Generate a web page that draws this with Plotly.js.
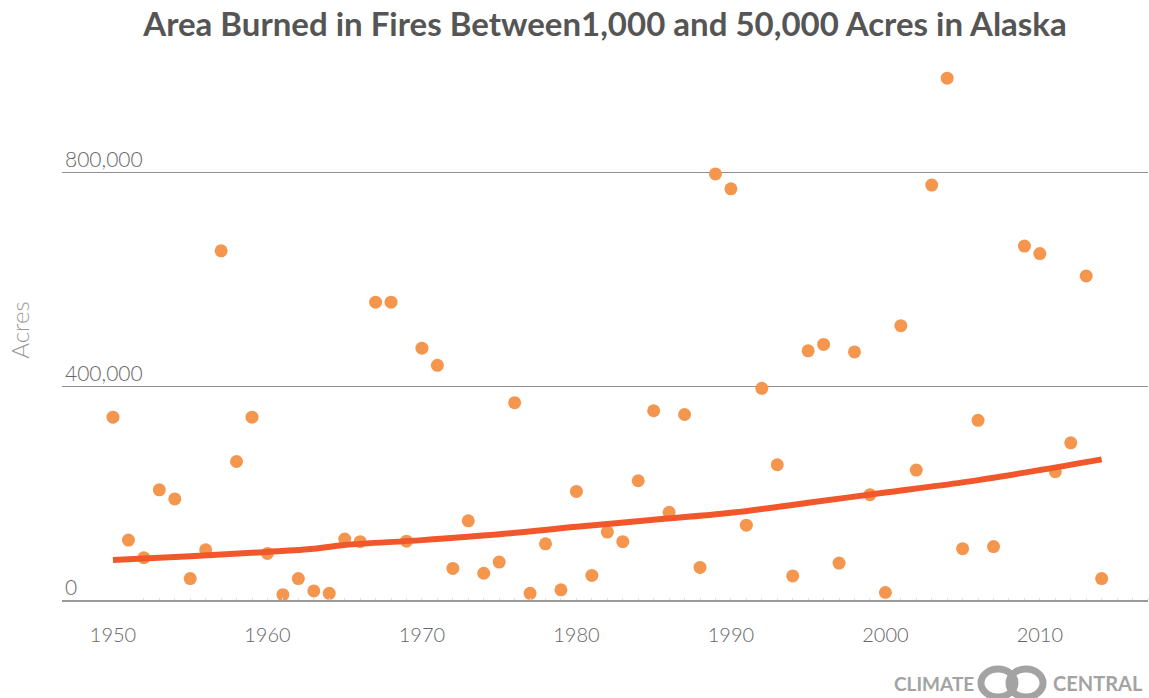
<!DOCTYPE html>
<html>
<head>
<meta charset="utf-8">
<script src="https://cdn.plot.ly/plotly-3.0.1.min.js"></script>
<style>
  html, body { margin: 0; padding: 0; background: #fff; }
  #chart { width: 1149px; height: 698px; }
</style>
</head>
<body>
<div id="chart"></div>
<script>
// ---- Data ----
const chartTitle = "Area Burned in Fires Between1,000 and 50,000 Acres in Alaska";
const yTitle = "Acres";

const years = [
  1950, 1951, 1952, 1953, 1954, 1955, 1956, 1957, 1958, 1959,
  1960, 1961, 1962, 1963, 1964, 1965, 1966, 1967, 1968, 1969,
  1970, 1971, 1972, 1973, 1974, 1975, 1976, 1977, 1978, 1979,
  1980, 1981, 1982, 1983, 1984, 1985, 1986, 1987, 1988, 1989,
  1990, 1991, 1992, 1993, 1994, 1995, 1996, 1997, 1998, 1999,
  2000, 2001, 2002, 2003, 2004, 2005, 2006, 2007, 2008, 2009,
  2010, 2011, 2012, 2013, 2014
];

const acresBurned = [
  342000, 112000, 79000, 206000, 189000, 40000, 94000, 653000, 259000, 342000,
  87000, 10000, 40000, 17000, 12500, 114000, 109000, 557000, 557000, 110000,
  471000, 439000, 59000, 148000, 50000, 71000, 369000, 12500, 105000, 19000,
  203000, 46000, 127000, 109000, 223000, 354000, 164000, 347000, 61000, 797000,
  769000, 140000, 396000, 253000, 45000, 466000, 478000, 69000, 464000, 197000,
  14000, 513000, 243000, 776000, 976000, 96000, 336000, 100000, null, 662000,
  648000, 240000, 294000, 606000, 40000
];

const trendYears = [1950, 1955, 1960, 1963, 1965, 1970, 1975, 1980, 1985, 1990, 1995, 2000, 2005, 2010, 2014];
const trendAcres = [75000, 82000, 90000, 96000, 103000, 112000, 123000, 137000, 150000, 163000, 182000, 201000, 220000, 243000, 263000];

const yTickVals = [0, 400000, 800000];
const xTickVals = [1950, 1960, 1970, 1980, 1990, 2000, 2010];
const xRange = [1946.7, 2017.0];
const yRange = [0, 1010000];

// ---- Traces ----
const points = {
  type: "scatter",
  mode: "markers",
  x: years,
  y: acresBurned,
  marker: { color: "#F5964F", size: 13, line: { width: 0 } },
  hoverinfo: "x+y",
  showlegend: false
};

const trend = {
  type: "scatter",
  mode: "lines",
  x: trendYears,
  y: trendAcres,
  line: { color: "#F1572A", width: 6, shape: "spline" },
  hoverinfo: "skip",
  showlegend: false
};

// empty helper trace so the year-label axis (x2/y2 overlay) gets drawn
const axisHelper = {
  type: "scatter",
  mode: "markers",
  x: [],
  y: [],
  xaxis: "x2",
  yaxis: "y2",
  hoverinfo: "skip",
  showlegend: false
};

const fontFam = "Lato, 'Open Sans', 'DejaVu Sans', sans-serif";
const logoColor = "#a3a3a3";

// logo geometry (paper coordinates derived from pixel positions of the plot area)
const plotL = 62, plotW = 1086, plotB = 600, plotH = 540;
const px = v => (v - plotL) / plotW;
const py = v => (plotB - v) / plotH;

const layout = {
  width: 1149,
  height: 698,
  paper_bgcolor: "#ffffff",
  plot_bgcolor: "#ffffff",
  margin: { l: 62, r: 1, t: 60, b: 98, pad: 0 },
  title: {
    text: chartTitle,
    font: { family: fontFam, size: 33, color: "#555555", weight: "bold" },
    x: 0.5, xanchor: "center",
    y: 0.965, yanchor: "middle",
    xref: "paper", yref: "container"
  },
  xaxis: {
    range: xRange,
    tickmode: "array",
    tickvals: xTickVals,
    showticklabels: false,
    ticks: "",
    showgrid: false,
    zeroline: false,
    showline: true,
    linecolor: "#9a9a9a",
    linewidth: 2,
    minor: { dtick: 1, tick0: 1950, ticks: "inside", ticklen: 2, tickcolor: "#e0e0e0", showgrid: false },
    fixedrange: true
  },
  xaxis2: {
    overlaying: "x",
    anchor: "y2",
    side: "bottom",
    range: xRange,
    tickmode: "array",
    tickvals: xTickVals,
    ticktext: xTickVals.map(String),
    ticks: "",
    showgrid: false,
    zeroline: false,
    showline: false,
    ticklabelstandoff: 21,
    tickfont: { family: fontFam, size: 20, color: "#666666", weight: 300 },
    fixedrange: true
  },
  yaxis: {
    range: yRange,
    tickmode: "array",
    tickvals: yTickVals,
    tickformat: ",",
    ticks: "",
    ticklabelposition: "inside top",
    ticklabelshift: 2,
    showgrid: true,
    gridcolor: "#8f8f8f",
    gridwidth: 1,
    zeroline: false,
    showline: false,
    tickfont: { family: fontFam, size: 21, color: "#666666", weight: 300 },
    title: {
      text: yTitle,
      font: { family: fontFam, size: 24, color: "#9a9a9a", weight: 300 },
      standoff: 28
    },
    automargin: false,
    fixedrange: true
  },
  yaxis2: {
    overlaying: "y",
    anchor: "x2",
    side: "left",
    range: yRange,
    showticklabels: false,
    ticks: "",
    showgrid: false,
    zeroline: false,
    showline: false,
    fixedrange: true
  },
  annotations: [
    {
      xref: "paper", yref: "paper",
      x: px(1145), y: py(683),
      xanchor: "right", yanchor: "middle",
      text: "CENTRAL",
      showarrow: false,
      font: { family: fontFam, size: 20, color: logoColor, weight: "bold" }
    },
    {
      xref: "paper", yref: "paper",
      x: px(976), y: py(683),
      xanchor: "right", yanchor: "middle",
      text: "CLIMATE",
      showarrow: false,
      font: { family: fontFam, size: 19, color: logoColor, weight: "bold" }
    }
  ],
  shapes: [
    {
      type: "circle", xref: "paper", yref: "paper", layer: "above",
      x0: px(981), x1: px(1015),
      y0: py(697), y1: py(669),
      line: { color: logoColor, width: 7 }, fillcolor: "rgba(0,0,0,0)"
    },
    {
      type: "circle", xref: "paper", yref: "paper", layer: "above",
      x0: px(1009), x1: px(1043),
      y0: py(697), y1: py(669),
      line: { color: logoColor, width: 7 }, fillcolor: "rgba(0,0,0,0)"
    }
  ],
  showlegend: false,
  hovermode: "closest"
};

Plotly.newPlot("chart", [axisHelper, points, trend], layout, { displayModeBar: false, staticPlot: true });
</script>
</body>
</html>
